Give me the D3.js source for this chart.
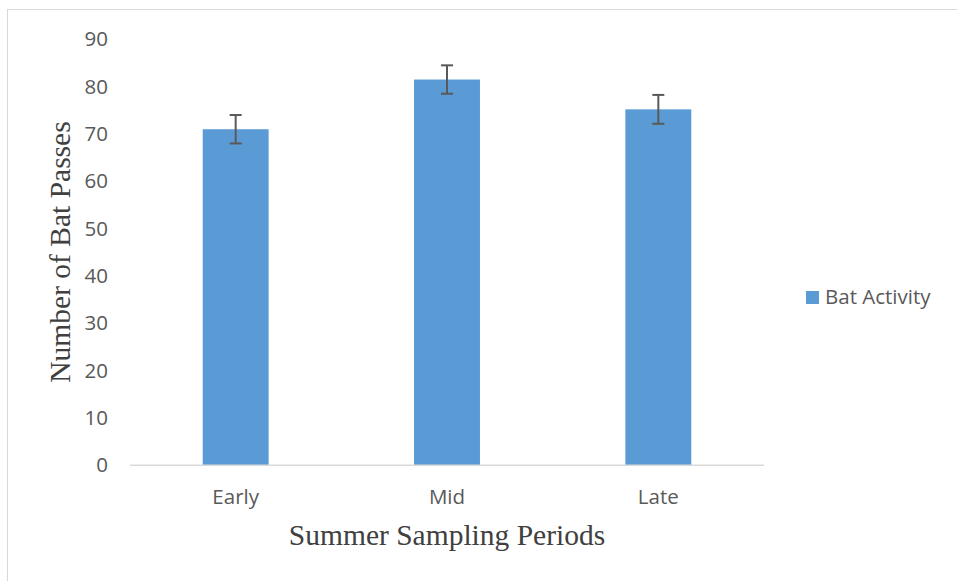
<!DOCTYPE html>
<html>
<meta charset="utf-8">
<title>Bat Activity</title>
<style>
  body { margin: 0; background: #fff; }
</style>
<body>
<div id="chartContainer"></div>
<script src="https://d3js.org/d3.v7.min.js"></script>
<script>
  // data
  var periods = ["Early", "Mid", "Late"];
  var batPasses = [71.0, 81.5, 75.2];
  var errors = [3.0, 3.0, 3.05];
  var yTicks = [0, 10, 20, 30, 40, 50, 60, 70, 80, 90];
  var seriesName = "Bat Activity";

  var svg = d3.select("#chartContainer").append("svg")
    .attr("width", 957)
    .attr("height", 581);

  // outer chart border
  svg.append("rect")
    .attr("x", 7.5).attr("y", 9.5)
    .attr("width", 960).attr("height", 600)
    .style("fill", "none")
    .style("stroke", "#d9d9d9")
    .style("stroke-width", 1);

  var x = d3.scaleBand().domain(periods).range([130, 764]).paddingInner(0.688).paddingOuter(0.344);
  var y = d3.scaleLinear().domain([0, 90]).range([465.3, 39.3]);

  // y tick labels (no axis line, no gridlines)
  svg.selectAll(".ytick")
    .data(yTicks)
    .enter().append("text")
    .attr("x", 108)
    .attr("y", function (d) { return y(d); })
    .attr("dy", "0.35em")
    .style("text-anchor", "end")
    .style("font-family", "Open Sans")
    .style("font-size", "20.5px")
    .style("fill", "#595959")
    .text(function (d) { return d; });

  // bars
  svg.selectAll(".bar")
    .data(periods)
    .enter().append("rect")
    .attr("x", function (d) { return x(d); })
    .attr("width", x.bandwidth())
    .attr("y", function (d, i) { return y(batPasses[i]); })
    .attr("height", function (d, i) { return y(0) - y(batPasses[i]); })
    .style("fill", "#5b9bd5");

  // baseline
  svg.append("line")
    .attr("x1", 130).attr("x2", 764)
    .attr("y1", y(0)).attr("y2", y(0))
    .style("stroke", "#d9d9d9")
    .style("stroke-width", 1.5);

  // error bars
  var eb = svg.selectAll(".err")
    .data(periods)
    .enter().append("g")
    .style("stroke", "#595959")
    .style("stroke-width", 2);
  eb.append("line")
    .attr("x1", function (d) { return x(d) + x.bandwidth() / 2; })
    .attr("x2", function (d) { return x(d) + x.bandwidth() / 2; })
    .attr("y1", function (d, i) { return y(batPasses[i] + errors[i]); })
    .attr("y2", function (d, i) { return y(batPasses[i] - errors[i]); });
  eb.append("line")
    .attr("x1", function (d) { return x(d) + x.bandwidth() / 2 - 6; })
    .attr("x2", function (d) { return x(d) + x.bandwidth() / 2 + 6; })
    .attr("y1", function (d, i) { return y(batPasses[i] + errors[i]); })
    .attr("y2", function (d, i) { return y(batPasses[i] + errors[i]); });
  eb.append("line")
    .attr("x1", function (d) { return x(d) + x.bandwidth() / 2 - 6; })
    .attr("x2", function (d) { return x(d) + x.bandwidth() / 2 + 6; })
    .attr("y1", function (d, i) { return y(batPasses[i] - errors[i]); })
    .attr("y2", function (d, i) { return y(batPasses[i] - errors[i]); });

  // category labels
  svg.selectAll(".xlab")
    .data(periods)
    .enter().append("text")
    .attr("x", function (d) { return x(d) + x.bandwidth() / 2; })
    .attr("y", 504)
    .style("text-anchor", "middle")
    .style("font-family", "Open Sans")
    .style("font-size", "20.5px")
    .style("fill", "#595959")
    .text(function (d) { return d; });

  // axis titles
  svg.append("text")
    .attr("x", 447)
    .attr("y", 545)
    .style("text-anchor", "middle")
    .style("font-family", "Liberation Serif")
    .style("font-size", "29.5px")
    .style("fill", "#404040")
    .text("Summer Sampling Periods");

  svg.append("text")
    .attr("transform", "translate(70,252) rotate(-90)")
    .style("text-anchor", "middle")
    .style("font-family", "Liberation Serif")
    .style("font-size", "29.5px")
    .style("fill", "#404040")
    .text("Number of Bat Passes");

  // legend
  svg.append("rect")
    .attr("x", 806).attr("y", 291)
    .attr("width", 13).attr("height", 13)
    .style("fill", "#5b9bd5");
  svg.append("text")
    .attr("x", 825)
    .attr("y", 304)
    .style("font-family", "Open Sans")
    .style("font-size", "20.5px")
    .style("fill", "#595959")
    .text(seriesName);
</script>
</body>
</html>
